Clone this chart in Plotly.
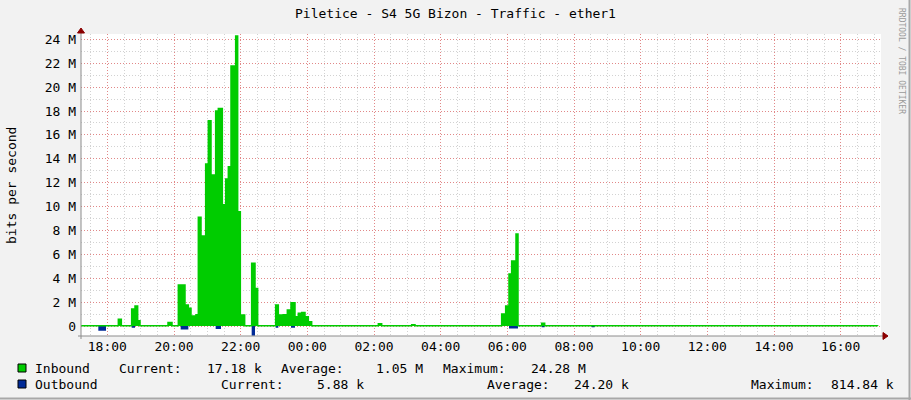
import plotly.graph_objects as go

# ── Data (hours since midnight of day 1, Mbit/s; step values hold until next time) ──
IN_TIME = [17.21, 18.33, 18.42, 18.73, 18.83, 18.91, 18.98, 19.82, 19.94,
           20.13, 20.33, 20.43, 20.51, 20.66, 20.73, 20.81, 20.95, 21.03,
           21.11, 21.25, 21.33, 21.45, 21.55, 21.63, 21.71, 21.85, 21.91,
           21.99, 22.12, 22.33, 22.43, 22.51, 23.05, 23.13, 23.28, 23.40,
           23.51, 23.63, 23.73, 23.83, 23.93, 24.03, 24.13, 26.13, 26.23,
           27.13, 27.23, 29.83, 29.95, 30.05, 30.13, 30.26, 30.32, 31.03,
           31.12, 41.11]
IN_MBPS = [0.02, 0.56, 0.02, 1.42, 1.67, 0.45, 0.02, 0.30, 0.02,
           3.43, 1.76, 1.48, 0.84, 0.95, 9.10, 7.53, 13.56, 17.18,
           12.64, 18.00, 18.20, 10.15, 12.30, 13.33, 21.76, 24.28, 9.57,
           0.92, 0.02, 5.25, 3.15, 0.02, 1.76, 0.92, 0.95, 1.34,
           1.95, 0.78, 1.06, 1.14, 0.78, 0.36, 0.02, 0.19, 0.02,
           0.10, 0.02, 1.00, 1.67, 4.35, 5.44, 7.70, 0.02, 0.22,
           0.02, 0.017]

OUT_TIME = [17.21, 17.73, 17.96, 18.73, 18.83, 20.20, 20.43, 21.25, 21.41,
            21.99, 22.33, 22.43, 23.05, 23.13, 23.51, 23.63, 30.05, 30.32,
            31.03, 31.12, 32.53, 32.62, 41.11]
OUT_MBPS = [0.01, 0.40, 0.01, 0.14, 0.01, 0.30, 0.01, 0.25, 0.01,
            0.01, 0.81, 0.01, 0.14, 0.01, 0.14, 0.01, 0.20, 0.01,
            0.10, 0.01, 0.10, 0.01, 0.006]

X_TICKS = [18, 20, 22, 24, 26, 28, 30, 32, 34, 36, 38, 40]
X_LABELS = ["18:00", "20:00", "22:00", "00:00", "02:00", "04:00",
            "06:00", "08:00", "10:00", "12:00", "14:00", "16:00"]
Y_TICKS = [0, 2, 4, 6, 8, 10, 12, 14, 16, 18, 20, 22, 24]
Y_LABELS = ["0", "2 M", "4 M", "6 M", "8 M", "10 M", "12 M", "14 M",
            "16 M", "18 M", "20 M", "22 M", "24 M"]

SERIES = ["Inbound", "Outbound"]
CURRENT = ["17.18 k", "5.88 k"]
AVERAGE = ["1.05 M", "24.20 k"]
MAXIMUM = ["24.28 M", "814.84 k"]

# ── Look ──────────────────────────────────────────────────────────────────────
GREEN = "#00CC00"
BLUE = "#002A97"
FONT = "DejaVu Sans Mono"
BACK = "#F2F2F2"
MGRID = "rgba(255,0,0,0.35)"
GRID = "#D2D2D2"
ARROW = "#8B0000"

# plot area in pixels
L, R, T, B = 81, 881, 34, 336


def px(p):
    return (p - L) / (R - L)


def py(p):
    return (B - p) / (B - T)


fig = go.Figure()

# outbound is mirrored below zero, fill only so the green zero line stays clean
fig.add_trace(go.Scatter(
    x=OUT_TIME, y=[-v for v in OUT_MBPS], name="Outbound",
    mode="lines", line=dict(color=BLUE, width=0, shape="hv"),
    fill="tozeroy", fillcolor=BLUE, hoverinfo="skip",
))
fig.add_trace(go.Scatter(
    x=IN_TIME, y=IN_MBPS, name="Inbound",
    mode="lines", line=dict(color=GREEN, width=1.5, shape="hv"),
    fill="tozeroy", fillcolor=GREEN, hoverinfo="skip",
))

fig.update_layout(
    width=911, height=400, autosize=False,
    margin=dict(l=L, r=911 - R, t=T, b=400 - B),
    paper_bgcolor=BACK, plot_bgcolor="#FFFFFF",
    font=dict(family=FONT, size=13, color="#000000"),
    showlegend=False,
    title=dict(text="Piletice - S4 5G Bizon - Traffic - ether1",
               x=0.5, xanchor="center", y=1 - 13 / 400, yanchor="middle",
               font=dict(family=FONT, size=13, color="#000000")),
)

fig.update_xaxes(
    range=[17.21, 41.21], tickmode="array", tickvals=X_TICKS, ticktext=X_LABELS,
    showgrid=True, gridcolor=MGRID, griddash="1px,2px", gridwidth=1,
    ticks="", ticklabelstandoff=1,
    minor=dict(dtick=0.5, tick0=18, showgrid=True, gridcolor=GRID,
               griddash="1px,2px"),
    zeroline=False, showline=False, fixedrange=True,
)
fig.update_yaxes(
    range=[-0.837, 24.447], tickmode="array", tickvals=Y_TICKS, ticktext=Y_LABELS,
    showgrid=True, gridcolor=MGRID, griddash="1px,2px", gridwidth=1,
    ticks="", ticklabelstandoff=4,
    minor=dict(dtick=1, tick0=0, showgrid=True, gridcolor=GRID, griddash="1px,2px"),
    zeroline=False, showline=False, fixedrange=True,
)

# axis lines with arrows
fig.add_shape(type="line", xref="paper", yref="paper",
              x0=px(78), x1=px(883), y0=py(336), y1=py(336),
              line=dict(color="#8C8C8C", width=1))
fig.add_shape(type="line", xref="paper", yref="paper",
              x0=px(81), x1=px(81), y0=py(339), y1=py(31),
              line=dict(color="#8C8C8C", width=1))
fig.add_shape(type="path", xref="paper", yref="paper",
              path=f"M {px(883)},{py(332.5)} L {px(888)},{py(336)} L {px(883)},{py(339.5)} Z",
              fillcolor=ARROW, line=dict(color=ARROW, width=1))
fig.add_shape(type="path", xref="paper", yref="paper",
              path=f"M {px(77.5)},{py(33)} L {px(81)},{py(28)} L {px(84.5)},{py(33)} Z",
              fillcolor=ARROW, line=dict(color=ARROW, width=1))

# image frame
fig.add_shape(type="line", xref="paper", yref="paper",
              x0=px(909.5), x1=px(909.5), y0=py(0), y1=py(400),
              line=dict(color="#A8A8A8", width=2))
fig.add_shape(type="line", xref="paper", yref="paper",
              x0=px(0), x1=px(911), y0=py(398.5), y1=py(398.5),
              line=dict(color="#A8A8A8", width=2))

# axis title and watermark
fig.add_annotation(text="bits per second", xref="paper", yref="paper",
                   x=px(11), y=py(186), textangle=-90, showarrow=False,
                   xanchor="center", yanchor="middle",
                   font=dict(family=FONT, size=13, color="#000000"))
fig.add_annotation(text="RRDTOOL / TOBI OETIKER", xref="paper", yref="paper",
                   x=px(902), y=py(61), textangle=90, showarrow=False,
                   xanchor="center", yanchor="middle",
                   font=dict(family=FONT, size=8, color="#9A9A9A"))

# legend rows
colors = [GREEN, BLUE]
rows_y = [368, 384]
cols = [
    [33, 117, 205, 279, 374, 441, 529],
    [33, 219, 315, 485, 572, 749, 829],
]
for i, name in enumerate(SERIES):
    yy = rows_y[i]
    fig.add_shape(type="rect", xref="paper", yref="paper",
                  x0=px(18), x1=px(26), y0=py(yy - 4), y1=py(yy + 4),
                  fillcolor=colors[i], line=dict(color="#000000", width=1))
    texts = [name, "Current:", CURRENT[i], "Average:", AVERAGE[i],
             "Maximum:", MAXIMUM[i]]
    for xx, t in zip(cols[i], texts):
        fig.add_annotation(text=t, xref="paper", yref="paper",
                           x=px(xx), y=py(yy), showarrow=False,
                           xanchor="left", yanchor="middle",
                           font=dict(family=FONT, size=13, color="#000000"))

# page body has a default 8px margin; drop it so the figure sits at 0,0
fig.write_html("out.html", config={"displayModeBar": False},
               post_script="document.body.style.margin='0';")
